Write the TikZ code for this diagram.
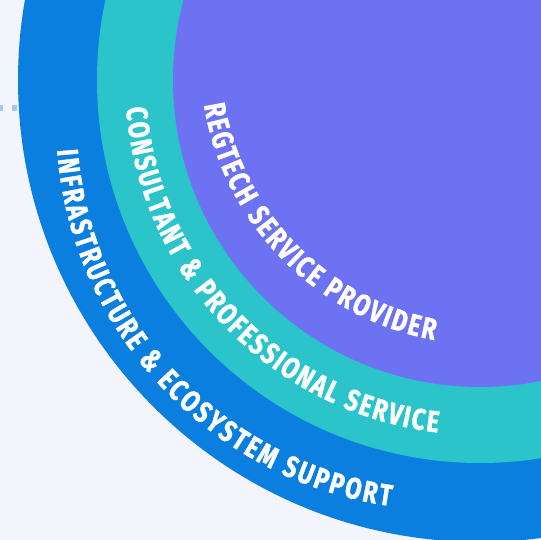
\documentclass[tikz,border=0pt]{standalone}
\usepackage{fontspec}
\newfontfamily\ringfont{Fira Sans}[FakeStretch=0.78,FakeBold=1.3]
\usetikzlibrary{decorations.text,calc}
\definecolor{bg}{HTML}{F4F4FD}
\definecolor{ringblue}{HTML}{0A7FE0}
\definecolor{ringteal}{HTML}{2CC4CB}
\definecolor{ringpurple}{HTML}{6C72F2}
\definecolor{dashblue}{HTML}{A9C4EF}
\tikzset{
  ringtext/.style={decorate, decoration={text along path, text align={fit to path}, text={#1}}},
}
\newcommand{\rf}{\ringfont\bfseries\fontsize{30}{30}\selectfont\color{white}}
\begin{document}
\begin{tikzpicture}[x=1pt,y=1pt]
\useasboundingbox (0,0) rectangle (541,540);
\clip (0,0) rectangle (541,540);
\fill[bg] (0,0) rectangle (541,540);
\coordinate (dl) at (-2.9,432);
\coordinate (dr) at (30,432);
\draw[dashblue, line width=5.5, dash pattern=on 5.6 off 8.8] (dl) -- (dr);
\coordinate (c) at (480,460);
\fill[ringblue] (c) circle[radius=462];
\fill[ringteal] (c) circle[radius=383];
\fill[ringpurple] (c) circle[radius=307];
\coordinate (c1) at (486,481);
\coordinate (c3) at (445.4,419.5);
\path[ringtext={|\rf|REGTECH SERVICE PROVIDER}] ($(c1)+(189.26:285.8)$) arc[start angle=189.26, end angle=259.52, radius=285.8];
\path[ringtext={|\rf|CONSULTANT {\&} PROFESSIONAL SERVICE}] ($(c)+(184.5:355)$) arc[start angle=184.5, end angle=263.1, radius=355];
\path[ringtext={|\rf|INFRASTRUCTURE {\&} ECOSYSTEM SUPPORT}] ($(c3)+(184.34:389.5)$) arc[start angle=184.34, end angle=261.82, radius=389.5];
\end{tikzpicture}
\end{document}
